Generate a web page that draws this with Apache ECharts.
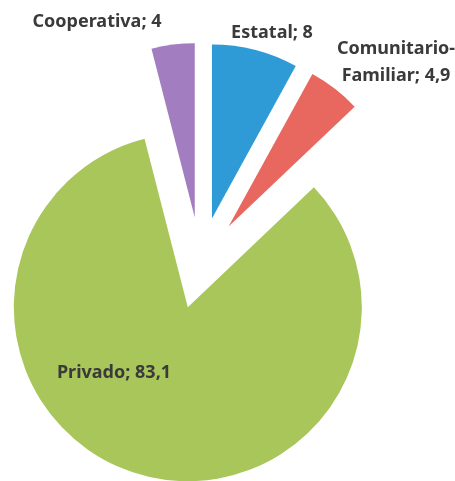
<!DOCTYPE html>
<html>
<head>
<meta charset="utf-8">
<script src="https://cdn.jsdelivr.net/npm/echarts@6/dist/echarts.min.js"></script>
<style>
  html, body { margin: 0; padding: 0; background: #fff; }
  #chart { width: 455px; height: 481px; }
</style>
</head>
<body>
<div id="chart"></div>
<script>
// Ownership shares (%)
const categories = ['Estatal', 'Comunitario-Familiar', 'Privado', 'Cooperativa'];
const shares = [8, 4.9, 83.1, 4];

const sliceColors = ['#2f9bd6', '#e8675f', '#a9c65a', '#a27ec0'];
// Label anchor points (centre of each text block)
const labelSpots = [[272, 33], [396, 62], [114, 373], [97, 22]];

const chart = echarts.init(document.getElementById('chart'), null, { renderer: 'canvas' });

const fmtValue = v => String(v).replace('.', ',');
const labelText = i => categories[i].replace('-', '-\n') + '; ' + fmtValue(shares[i]);

chart.setOption({
  animation: false,
  series: [{
    type: 'pie',
    center: [200.5, 263],
    radius: 174,
    startAngle: 90,
    clockwise: true,
    selectedMode: 'multiple',
    selectedOffset: 46,
    emphasis: { disabled: true },
    label: { show: false },
    labelLine: { show: false },
    itemStyle: { borderWidth: 0 },
    data: categories.map((name, i) => ({
      name,
      value: shares[i],
      selected: true,
      itemStyle: { color: sliceColors[i] }
    }))
  }],
  // Slice captions "name; value"
  graphic: categories.map((name, i) => ({
    type: 'text',
    x: labelSpots[i][0],
    y: labelSpots[i][1],
    z: 10,
    style: {
      text: labelText(i),
      fontFamily: 'Noto Sans',
      fontWeight: 'bold',
      fontSize: 18,
      lineHeight: 27,
      fill: '#3a3a3a',
      align: 'center',
      verticalAlign: 'middle'
    }
  }))
});
</script>
</body>
</html>
